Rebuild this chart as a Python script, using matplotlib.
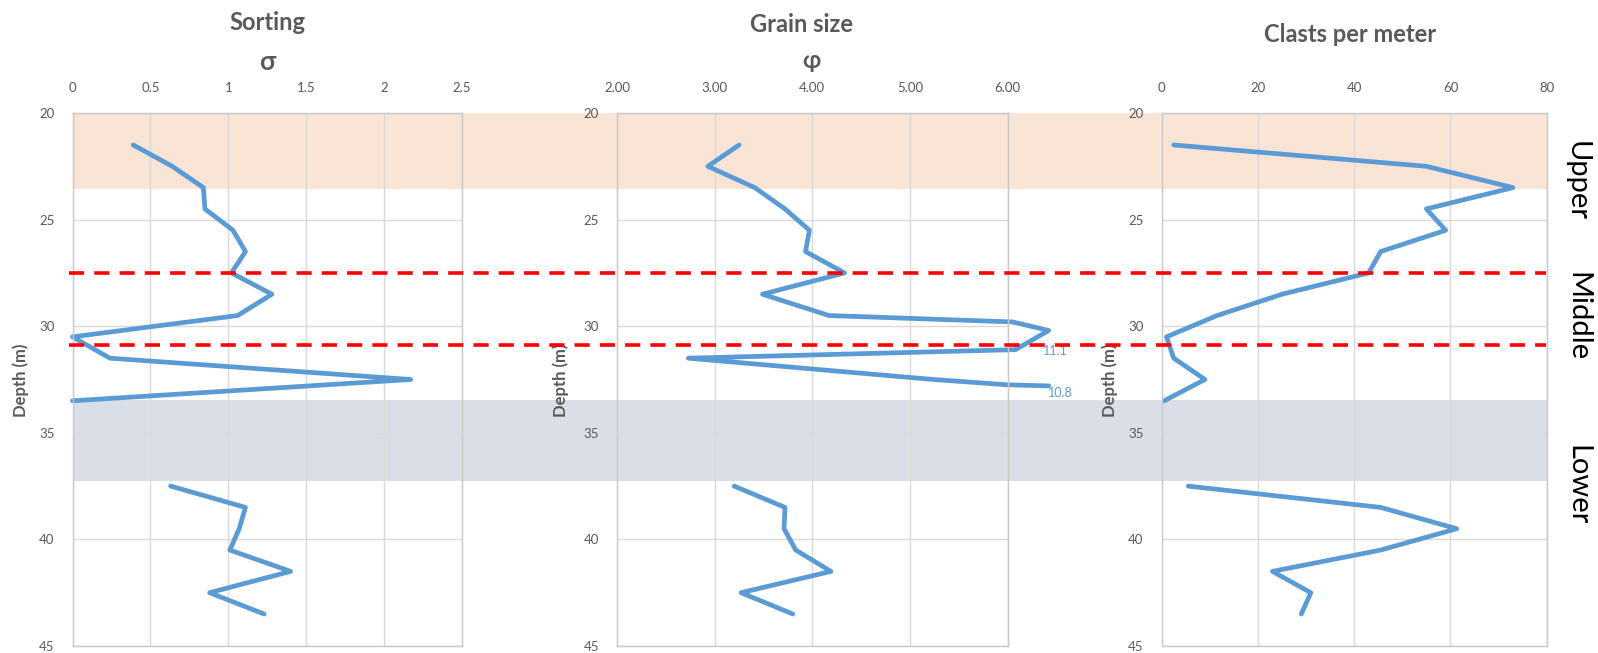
import numpy as np
import matplotlib
matplotlib.use("Agg")
import matplotlib.pyplot as plt
import matplotlib.transforms as mtransforms
from matplotlib.patches import Rectangle
from matplotlib.lines import Line2D

plt.rcParams['font.family'] = ['Lato', 'Open Sans', 'DejaVu Sans']

# ---------------- data ----------------
nan = np.nan
sorting_depth = [21.5, 22.5, 23.5, 24.5, 25.5, 26.5, 27.5, 28.5, 29.5, 30.5, 31.5, 32.5, 33.5,
                 nan, 37.5, 38.5, 39.5, 40.5, 41.5, 42.5, 43.5]
sorting_sigma = [0.39, 0.64, 0.84, 0.85, 1.03, 1.11, 1.02, 1.28, 1.06, 0.0, 0.24, 2.17, 0.0,
                 nan, 0.63, 1.11, 1.07, 1.01, 1.40, 0.88, 1.23]

grain_depth = [21.5, 22.5, 23.5, 24.5, 25.5, 26.5, 27.5, 28.5, 29.5, 29.8, 30.2, 31.1, 31.5,
               32.5, 32.75, 32.8, nan, 37.5, 38.5, 39.5, 40.5, 41.5, 42.5, 43.5]
grain_phi = [3.25, 2.93, 3.41, 3.72, 3.97, 3.93, 4.33, 3.49, 4.17, 6.05, 6.42, 6.08, 2.73,
             5.24, 6.00, 6.42, nan, 3.20, 3.72, 3.71, 3.83, 4.19, 3.27, 3.80]
grain_labels = ["11.1", "10.8"]

clasts_depth = [21.5, 22.5, 23.5, 24.5, 25.5, 26.5, 27.5, 28.5, 29.5, 30.5, 31.5, 32.5, 33.5,
                nan, 37.5, 38.5, 39.5, 40.5, 41.5, 42.5, 43.5]
clasts_count = [2.5, 55, 73, 55, 59, 45.5, 43, 25, 11.5, 1, 2.5, 9, 0.5,
                nan, 5.5, 45.5, 61.3, 45.5, 23, 31, 29]

sorting_ticks = [0, 0.5, 1, 1.5, 2, 2.5]
sorting_ticklabels = ["0", "0.5", "1", "1.5", "2", "2.5"]
grain_ticks = [2, 3, 4, 5, 6]
grain_ticklabels = ["2.00", "3.00", "4.00", "5.00", "6.00"]
clasts_ticks = [0, 20, 40, 60, 80]
clasts_ticklabels = ["0", "20", "40", "60", "80"]
depth_ticks = [20, 25, 30, 35, 40, 45]

upper_zone = (20, 23.55)
lower_zone = (33.47, 37.25)
boundaries = [27.5, 30.86]
zone_names = ["Upper", "Middle", "Lower"]

titles = ["Sorting", "Grain size", "Clasts per meter"]
symbols = ["σ", "φ"]

# ---------------- layout ----------------
W, H = 1598, 653
fig = plt.figure(figsize=(W / 100, H / 100), dpi=100)


def rect(l, r, t, b):
    return [l / W, 1 - b / H, (r - l) / W, (b - t) / H]


ax1 = fig.add_axes(rect(72.5, 462, 113, 646))
ax2 = fig.add_axes(rect(617, 1007.7, 113, 646))
ax3 = fig.add_axes(rect(1161.7, 1546.7, 113, 646))

BLUE = '#5b9bd5'
GRAY_TXT = '#595959'

for ax in (ax1, ax2, ax3):
    ax.set_facecolor('none')
    ax.set_ylim(45, 20)
    ax.set_yticks(depth_ticks)
    ax.xaxis.tick_top()
    ax.tick_params(axis='both', length=0, labelsize=9.5, labelcolor=GRAY_TXT)
    ax.tick_params(axis='x', pad=14)
    ax.tick_params(axis='y', pad=13)
    ax.grid(True, color='#d9d9d9', lw=1.0)
    for s in ax.spines.values():
        s.set_color('#c8c8c8')
        s.set_linewidth(1.0)

ax1.set_xlim(0, 2.5)
ax1.set_xticks(sorting_ticks, sorting_ticklabels)
ax2.set_xlim(2, 6)
ax2.set_xticks(grain_ticks, grain_ticklabels)
ax3.set_xlim(0, 80)
ax3.set_xticks(clasts_ticks, clasts_ticklabels)

line_kw = dict(color=BLUE, lw=3.4, solid_joinstyle='round', solid_capstyle='round', clip_on=False)
ax1.plot(sorting_sigma, sorting_depth, **line_kw)
ax2.plot(grain_phi, grain_depth, **line_kw)
ax3.plot(clasts_count, clasts_depth, **line_kw)

# zones spanning all panels
blend = mtransforms.blended_transform_factory(fig.transFigure, ax1.transData)
x0, x1 = 72.5 / W, 1546.7 / W
fig.add_artist(Rectangle((x0, upper_zone[0]), x1 - x0, upper_zone[1] - upper_zone[0],
                         transform=blend, facecolor='#fae4d6', edgecolor='none', zorder=-1))
fig.add_artist(Rectangle((x0, lower_zone[0]), x1 - x0, lower_zone[1] - lower_zone[0],
                         transform=blend, facecolor='#dadfe7', edgecolor='none', zorder=-1))
for b in boundaries:
    fig.add_artist(Line2D([69 / W, 1546 / W], [b, b], transform=blend, color='#ff0000',
                          lw=2.6, dashes=(4.2, 2.8), zorder=5))

# annotations for off-scale grain sizes
fig.text(1055 / W, 1 - 351 / H, grain_labels[0], color=BLUE, fontsize=9, ha='center', va='center')
fig.text(1060 / W, 1 - 393 / H, grain_labels[1], color=BLUE, fontsize=9, ha='center', va='center')

# titles
fig.text(267 / W, 1 - 23 / H, titles[0], fontsize=17, fontweight='bold', color=GRAY_TXT, ha='center', va='center')
fig.text(267 / W, 1 - 62 / H, symbols[0], fontsize=19, fontweight='bold', color=GRAY_TXT, ha='center', va='center')
fig.text(801 / W, 1 - 24 / H, titles[1], fontsize=17, fontweight='bold', color=GRAY_TXT, ha='center', va='center')
fig.text(811 / W, 1 - 61 / H, symbols[1], fontsize=17, fontweight='bold', color=GRAY_TXT, ha='center', va='center')
fig.text(1350 / W, 1 - 34 / H, titles[2], fontsize=17, fontweight='bold', color=GRAY_TXT, ha='center', va='center')

# depth labels
for xc in (21, 561, 1110):
    fig.text(xc / W, 1 - 380 / H, "Depth (m)", rotation=90, fontsize=12, fontweight='bold',
             color=GRAY_TXT, ha='center', va='center')

# zone names
for name, yc in zip(zone_names, (181, 317, 485)):
    fig.text(1577 / W, 1 - yc / H, name, rotation=-90, fontsize=21, color='black',
             ha='center', va='center')

fig.savefig('out.png', dpi=100)
